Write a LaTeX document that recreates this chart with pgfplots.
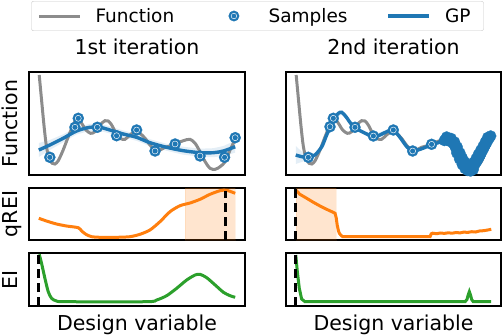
\documentclass[border=0pt]{standalone}
\usepackage{fontspec}
\setmainfont{DejaVu Sans}
\usepackage{pgfplots}
\usepackage{pgfplotstable}
\pgfplotsset{compat=1.18}

\definecolor{tabblue}{HTML}{1F77B4}
\definecolor{taborange}{HTML}{FF7F0E}
\definecolor{tabgreen}{HTML}{2CA02C}
\definecolor{fgray}{HTML}{8C8C8C}
\newcommand{\lab}{\fontsize{20.5bp}{24bp}\selectfont}

% samples of the two iterations
\pgfplotstableread{
x y
0.056 17.7
0.184 47.7
0.201 56.7
0.298 47.7
0.396 39.3
0.498 45
0.592 24
0.694 31
0.821 19
0.946 17.7
1.0 37.3
}\sampA
\pgfplotstableread{
x y
0.064 17.7
0.175 48.3
0.192 56.7
0.303 47.7
0.397 39
0.499 45
0.598 24
0.695 30.7
0.760 34.5
0.768 36
0.776 35
0.784 36.5
0.790 33.5
0.798 34
0.806 31.5
0.812 30
0.818 27
0.826 25
0.832 21.7
0.838 20
0.845 17
0.851 14.5
0.857 12.5
0.864 10
0.870 8.5
0.877 7
0.883 6
0.890 5.5
0.897 6
0.903 7.5
0.910 9
0.917 11
0.924 13
0.930 15
0.937 17.5
0.944 20
0.950 22.5
0.957 25
0.963 27.5
0.970 30
0.977 32.5
0.983 35
0.990 37
0.997 39
0.772 38
0.795 36.5
0.812 33
0.826 28
0.840 22
0.852 17
0.864 13
0.876 9.5
0.886 8.5
0.898 9.5
0.910 12.5
0.922 16
0.934 20.5
0.946 24.5
0.958 28.5
0.970 33
0.982 37.5
0.824 22
0.838 16
0.852 10.5
0.866 6.5
0.880 4.5
0.894 4
0.908 5.5
}\sampB

\pgfplotsset{
  panel/.style={scale only axis, anchor=north west,
    xmin=-0.05, xmax=1.05, xtick=\empty, ytick=\empty,
    axis line style={line width=1.1bp},
    label style={font=\lab}, title style={font=\lab}},
  ftop/.style={panel, width=#1, height=103bp, ymin=0, ymax=103,
    title style={at={(axis description cs:0.5,1)}, anchor=base, yshift=12bp}},
  fmid/.style={panel, width=#1, height=52bp, ymin=0, ymax=52},
  fbot/.style={panel, width=#1, height=53bp, ymin=0, ymax=53,
    xlabel={Design variable},
    xlabel style={at={(axis description cs:0.5,0)}, anchor=base, yshift=-24bp}},
  ylab/.style={ylabel={#1},
    ylabel style={at={(axis description cs:-0.054,0.5)}, anchor=base, inner sep=0pt}},
  func/.style={fgray, line width=3bp, smooth, tension=0.5},
  gp/.style={tabblue, line width=3.4bp, smooth, tension=0.5},
  samp/.style={only marks, mark=*, mark size=5.6bp,
    mark options={fill=tabblue, draw=tabblue, line width=0.2bp}},
  ring/.style={only marks, mark=o, mark size=3bp,
    mark options={draw=white, line width=0.45bp}},
  band/.style={fill=tabblue, fill opacity=0.12, draw=none},
  acq/.style={line width=3bp},
  pick/.style={black, line width=3bp, dash pattern=on 9bp off 5bp},
  shade/.style={fill=taborange, fill opacity=0.2, draw=taborange, draw opacity=0.1},
  lineleg/.style={legend image code/.code={\draw[##1] (0bp,0bp) -- (41bp,0bp); \path (48bp,0bp);}},
  markleg/.style={legend image code/.code={\path (0bp,0bp) (48bp,0bp);
    \fill[tabblue] (20.5bp,0bp) circle (5.2bp);
    \draw[white, line width=0.45bp] (20.5bp,0bp) circle (2.8bp);}},
}

\begin{document}
\begin{tikzpicture}
\path[use as bounding box] (0,0) rectangle (502bp,-336bp);

% ---------------- 1st iteration ----------------
\begin{axis}[ftop=216bp, at={(29bp,-72bp)}, title={1st iteration}, ylab={Function},
  legend columns=3,
  legend style={at={(axis description cs:1.058,1.689)}, anchor=north,
    draw=black!22, rounded corners=2bp, inner xsep=6bp, inner ysep=4bp,
    font=\fontsize{18.5bp}{21bp}\selectfont,
    nodes={inner xsep=7bp, inner ysep=3bp},
    /tikz/every even column/.append style={column sep=32bp}}]
\addplot[band, forget plot] coordinates {(0,32) (0.056,35) (0.124,40.7) (0.192,47.5) (0.260,51.2) (0.311,51.2)
  (0.362,48.5) (0.430,44.5) (0.498,41.2) (0.566,35.8) (0.651,31.2) (0.736,28.3) (0.821,26.3)
  (0.889,26.8) (0.940,29) (1.0,34.3) (1.0,22.3) (0.940,19) (0.889,17.8) (0.821,18.3) (0.736,20.3)
  (0.651,24.2) (0.566,28.8) (0.498,34.2) (0.430,37.5) (0.362,41.5) (0.311,44.2) (0.260,44.2)
  (0.192,40.5) (0.124,32.7) (0.056,25) (0,18)} -- cycle;
\addplot[func, forget plot] coordinates {(0.002,100) (0.014,75) (0.027,48.3) (0.039,28.3) (0.053,16.7)
  (0.068,11.7) (0.082,11) (0.099,14.3) (0.124,25) (0.150,38.3) (0.175,50) (0.196,56.7) (0.218,51.7)
  (0.240,45) (0.264,41.7) (0.286,43.3) (0.311,50) (0.337,54.3) (0.354,54) (0.371,50) (0.393,41.7)
  (0.413,36.7) (0.439,35.7) (0.464,40) (0.490,43.3) (0.515,41.7) (0.541,36.7) (0.566,30) (0.592,25)
  (0.617,25) (0.643,27.7) (0.668,29) (0.702,31.7) (0.736,34.3) (0.770,35.7) (0.796,31.7) (0.821,23.3)
  (0.847,13.3) (0.872,6.7) (0.898,5.7) (0.923,8.3) (0.949,13.3) (0.974,25) (1.0,35.7)};
\addplot[gp, forget plot] coordinates {(0,25) (0.056,30) (0.124,36.7) (0.192,44) (0.260,47.7)
  (0.311,47.7) (0.362,45) (0.430,41) (0.498,37.7) (0.566,32.3) (0.651,27.7) (0.736,24.3)
  (0.821,22.3) (0.889,22.3) (0.940,24) (1.0,28.3)};
\addplot[samp, forget plot] table {\sampA};
\addplot[ring, forget plot] table {\sampA};
\addlegendimage{fgray, line width=3bp, lineleg}
\addlegendentry{Function}
\addlegendimage{tabblue, markleg}
\addlegendentry{Samples}
\addlegendimage{tabblue, line width=3.4bp, lineleg}
\addlegendentry{GP}
\end{axis}

\begin{axis}[fmid=216bp, at={(29bp,-188bp)}, ylab={qREI}]
\addplot[shade] coordinates {(0.745,0) (1.0,0) (1.0,52) (0.745,52)} -- cycle;
\addplot[acq, taborange, smooth, tension=0.45] coordinates {(0,21.7) (0.039,19) (0.090,16) (0.141,14)
  (0.201,12.3) (0.218,9) (0.240,5.7) (0.269,3.3) (0.311,2.7) (0.396,2.7) (0.464,3.3) (0.515,5.7)
  (0.566,10) (0.617,18.3) (0.668,28.3) (0.719,34.3) (0.770,37) (0.821,40.7) (0.872,45.7)
  (0.923,49.3) (0.957,49.7) (1.0,46.7)};
\addplot[pick] coordinates {(0.949,0) (0.949,49.5)};
\end{axis}

\begin{axis}[fbot=216bp, at={(29bp,-253bp)}, ylab={EI}]
\addplot[acq, tabgreen, smooth, tension=0.45] coordinates {(0.002,51.7) (0.014,42.7) (0.031,27.7)
  (0.048,14.3) (0.065,7.7) (0.090,5) (0.141,4.3) (0.549,4.3) (0.600,6) (0.651,10.3) (0.702,17.7)
  (0.753,26) (0.796,31) (0.821,31.7) (0.855,28.3) (0.898,21) (0.940,13.7) (0.974,10.3) (1.0,8.7)};
\addplot[pick] coordinates {(0.0,0) (0.0,53)};
\end{axis}

% ---------------- 2nd iteration ----------------
\begin{axis}[ftop=215bp, at={(286bp,-72bp)}, title={2nd iteration}]
\addplot[band] coordinates {(0,29) (0.030,23.5) (0.064,20) (0.098,22) (0.133,30.5) (0.158,42)
  (0.196,58.7) (0.235,64.7) (0.281,53.7) (0.329,46.3) (0.397,40.3) (0.465,45.3) (0.499,47)
  (0.568,30.3) (0.598,26) (0.670,30.3) (0.764,37) (0.815,31) (0.866,12) (0.900,8.5) (0.951,25)
  (0.997,41) (0.997,37) (0.951,21) (0.900,4.5) (0.866,8) (0.815,27) (0.764,33) (0.670,26.3)
  (0.598,22) (0.568,26.3) (0.499,43) (0.465,41.3) (0.397,36.3) (0.329,42.3) (0.281,49.7)
  (0.235,60.7) (0.196,54.7) (0.158,38) (0.133,26.5) (0.098,18) (0.064,15.4) (0.030,13) (0,11)} -- cycle;
\addplot[func] coordinates {(0.002,100) (0.014,75) (0.027,48.3) (0.039,28.3) (0.053,16.7)
  (0.068,11.7) (0.082,11) (0.099,14.3) (0.124,25) (0.150,38.3) (0.175,50) (0.196,56.7) (0.218,51.7)
  (0.240,45) (0.264,41.7) (0.286,43.3) (0.311,50) (0.337,54.3) (0.354,54) (0.371,50) (0.393,41.7)
  (0.413,36.7) (0.439,35.7) (0.464,40) (0.490,43.3) (0.515,41.7) (0.541,36.7) (0.566,30) (0.592,25)
  (0.617,25) (0.643,27.7) (0.668,29) (0.702,31.7) (0.736,34.3) (0.770,35.7) (0.796,31.7) (0.821,23.3)
  (0.847,13.3) (0.872,6.7) (0.898,5.7) (0.923,8.3) (0.949,13.3) (0.974,25) (1.0,35.7)};
\addplot[gp] coordinates {(0,20) (0.030,18.3) (0.064,17.7) (0.098,20) (0.133,28.3) (0.158,40)
  (0.179,49) (0.196,56.7) (0.218,61.7) (0.235,62.7) (0.257,58.3) (0.281,51.7) (0.303,47.7)
  (0.329,44.3) (0.363,41) (0.397,38.3) (0.431,40) (0.465,43.3) (0.499,45) (0.533,37.7) (0.568,28.3)
  (0.598,24) (0.636,25.7) (0.670,28.3) (0.695,30.7) (0.729,32.3) (0.764,35) (0.789,34.3) (0.815,29)
  (0.840,19) (0.866,10) (0.885,5.5) (0.900,6.5) (0.926,13.5) (0.951,23) (0.977,32) (0.997,39)};
\addplot[samp] table {\sampB};
\addplot[ring, skip coords between index={8}{200}] table {\sampB};
\end{axis}

\begin{axis}[fmid=215bp, at={(286bp,-188bp)}]
\addplot[shade] coordinates {(0,0) (0.206,0) (0.206,52) (0,52)} -- cycle;
\addplot[acq, taborange] coordinates {(0,50) (0.021,45.7) (0.056,41.7) (0.090,37.7) (0.124,34)
  (0.158,30.7) (0.190,27.8) (0.201,26.7) (0.207,22) (0.212,15) (0.218,9.5) (0.223,6.7) (0.232,4.5)
  (0.240,3.3) (0.325,3.3) (0.687,3.3) (0.693,6.2) (0.70,6.8) (0.72,6.3) (0.74,7.0) (0.76,6.6)
  (0.78,7.2) (0.80,6.8) (0.82,7.5) (0.84,7.1) (0.86,7.9) (0.88,7.6) (0.90,8.3) (0.92,8.0)
  (0.94,9.0) (0.96,9.3) (0.98,9.9) (1.0,10.7)};
\addplot[pick] coordinates {(0.001,0) (0.001,52)};
\end{axis}

\begin{axis}[fbot=215bp, at={(286bp,-253bp)}]
\addplot[acq, tabgreen] coordinates {(0,51) (0.008,34.3) (0.018,17.7) (0.030,7) (0.047,4.3)
  (0.866,4.3) (0.876,6.5) (0.882,11) (0.888,14.3) (0.894,11) (0.900,6.5) (0.908,4.3) (1.0,4.3)};
\addplot[pick] coordinates {(0.001,0) (0.001,53)};
\end{axis}
\end{tikzpicture}
\end{document}
